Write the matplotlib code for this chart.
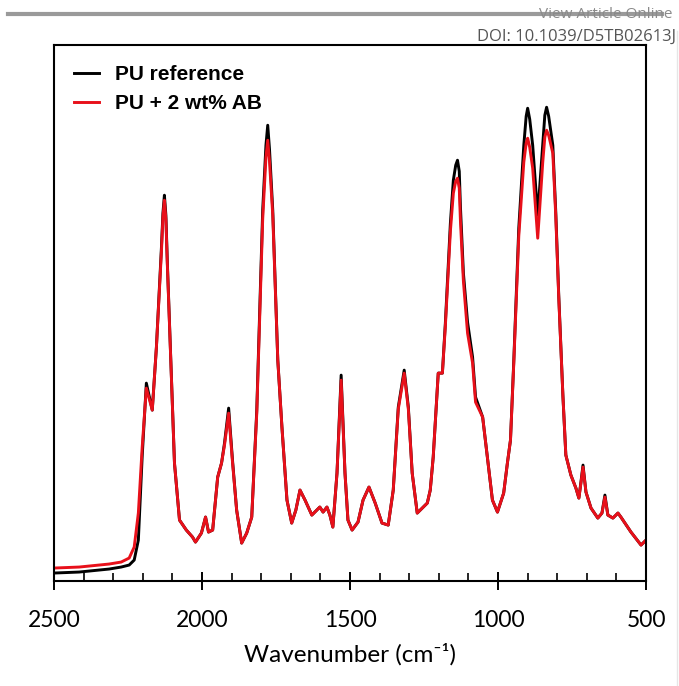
import matplotlib.pyplot as plt
from matplotlib.lines import Line2D

# FTIR spectra (absorbance, arbitrary units)
wavenumber = [2500, 2415, 2314, 2273, 2246, 2229, 2215, 2202, 2188, 2168, 2154, 2137, 2132, 2127,
              2122, 2117, 2103, 2093, 2076, 2053, 2032, 2022, 2002, 1988, 1978, 1964, 1947, 1934,
              1924, 1910, 1897, 1883, 1866, 1849, 1832, 1815, 1805, 1795, 1784, 1778, 1772, 1761,
              1744, 1730, 1713, 1697, 1683, 1669, 1652, 1629, 1602, 1591, 1578, 1568, 1558, 1544,
              1530, 1517, 1507, 1493, 1473, 1456, 1436, 1415, 1392, 1371, 1354, 1337, 1317, 1303,
              1290, 1273, 1256, 1239, 1229, 1219, 1202, 1188, 1178, 1161, 1151, 1143, 1137, 1131,
              1127, 1117, 1103, 1086, 1076, 1052, 1036, 1019, 1002, 981, 968, 958, 947, 930,
              913, 905, 900, 893, 883, 866, 849, 842, 836, 829, 815, 805, 795, 781,
              771, 754, 737, 727, 720, 713, 703, 686, 663, 649, 639, 629, 612, 595,
              585, 551, 517, 500]

pu_reference = [8, 9, 12, 14, 16, 21, 41, 125, 198, 171, 234, 334, 368, 386,
                366, 318, 201, 118, 61, 51, 44, 39, 48, 64, 49, 51, 104, 118,
                138, 173, 121, 71, 38, 48, 64, 171, 271, 371, 436, 456, 432, 371,
                221, 154, 81, 58, 71, 91, 81, 66, 74, 69, 74, 66, 54, 108,
                206, 108, 61, 51, 59, 81, 94, 78, 58, 56, 91, 174, 211, 174,
                108, 68, 73, 78, 91, 124, 208, 208, 258, 358, 401, 416, 421, 410,
                374, 308, 259, 224, 184, 164, 124, 81, 69, 88, 119, 141, 219, 353,
                436, 465, 473, 462, 436, 366, 436, 466, 474, 465, 436, 369, 286, 186,
                126, 106, 93, 83, 99, 116, 89, 73, 63, 68, 86, 66, 63, 68,
                64, 49, 36, 41]

pu_2wt_ab = [13, 14, 17, 19, 23, 34, 68, 134, 193, 171, 234, 330, 364, 381,
             362, 316, 201, 118, 61, 51, 44, 39, 48, 64, 49, 51, 104, 118,
             136, 168, 119, 71, 38, 48, 64, 168, 266, 362, 424, 441, 420, 366,
             221, 154, 81, 58, 71, 91, 81, 66, 74, 69, 74, 66, 54, 108,
             201, 108, 61, 51, 59, 81, 94, 78, 58, 56, 91, 172, 208, 172,
             108, 68, 73, 78, 91, 124, 208, 208, 255, 350, 388, 400, 403, 393,
             360, 300, 248, 218, 179, 164, 124, 81, 69, 88, 119, 141, 217, 345,
             419, 438, 443, 434, 413, 343, 419, 444, 451, 446, 428, 365, 284, 186,
             126, 106, 93, 83, 98, 114, 89, 73, 63, 68, 84, 66, 63, 68,
             64, 49, 36, 41]

fig = plt.figure(figsize=(6.79, 6.86), dpi=100)
ax = fig.add_axes([0.0795, 0.153, 0.872, 0.781])

ax.plot(wavenumber, pu_reference, color='black', linewidth=2.1, label="PU reference",
        solid_joinstyle='round')
ax.plot(wavenumber, pu_2wt_ab, color='#e8101a', linewidth=2.1, label="PU + 2 wt% AB",
        solid_joinstyle='round')

ax.set_xlim(2500, 500)
ax.set_ylim(0, 536)
ax.set_yticks([])
ax.set_xticks([2500, 2000, 1500, 1000, 500])
ax.set_xticks(range(500, 2500, 100), minor=True)
ax.tick_params(axis='x', which='major', direction='inout', length=13, width=1.4,
               labelsize=16.5, pad=14)
ax.tick_params(axis='x', which='minor', direction='in', length=6, width=1.2)
for lab in ax.get_xticklabels():
    lab.set_family('Lato')
for sp in ax.spines.values():
    sp.set_linewidth(1.5)

ax.set_xlabel("Wavenumber (cm\u207b\u00b9)", fontsize=17.5, family=['Lato', 'DejaVu Sans'],
              labelpad=9)

leg = ax.legend(loc='upper left', frameon=False, handlelength=1.2, handletextpad=0.8,
                labelspacing=0.5, borderaxespad=0.55,
                prop={'family': 'Liberation Sans', 'weight': 'bold', 'size': 15})

# journal header
fig.add_artist(Line2D([0.012, 0.975], [0.979, 0.979], color='#9a9a9a', linewidth=3))
fig.add_artist(Line2D([0.997, 0.997], [0.0, 0.955], color='#e6e6e6', linewidth=1))
fig.text(0.99, 0.979, "View Article Online", ha='right', va='center', fontsize=11,
         color='#8a8a8a', family='Open Sans')
fig.text(0.995, 0.946, "DOI: 10.1039/D5TB02613J", ha='right', va='center', fontsize=12,
         color='#555555', family='Open Sans')

fig.savefig("out.png", dpi=100)
